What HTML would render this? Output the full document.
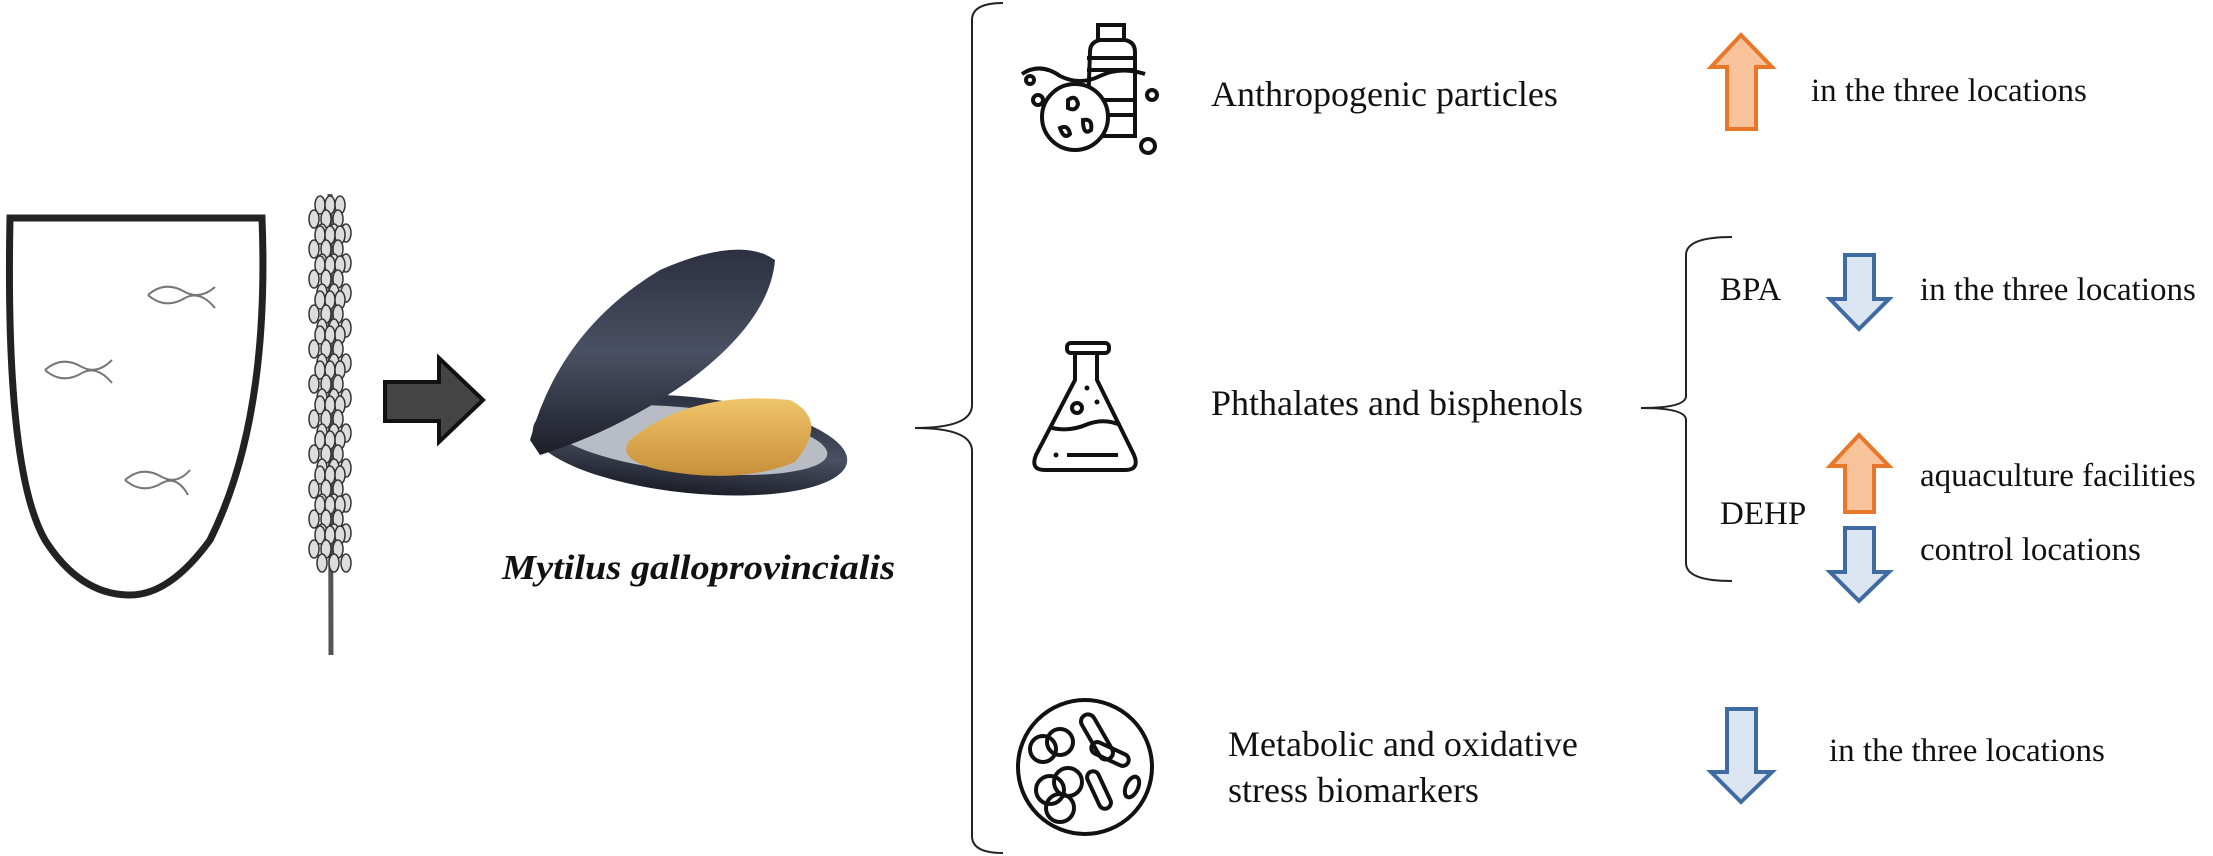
<!DOCTYPE html>
<html><head><meta charset="utf-8"><style>
html,body{margin:0;padding:0;background:#fff;}
svg{display:block;}
text{font-family:"Liberation Serif",serif;fill:#111;}
</style></head><body>
<svg width="2213" height="856" viewBox="0 0 2213 856" xmlns="http://www.w3.org/2000/svg">
<defs>
<linearGradient id="shell" x1="0" y1="0" x2="0" y2="1"><stop offset="0" stop-color="#2c3040"/><stop offset="0.5" stop-color="#4a5063"/><stop offset="1" stop-color="#1c1f28"/></linearGradient>
<linearGradient id="meat" x1="0" y1="0" x2="0" y2="1"><stop offset="0" stop-color="#f0c56a"/><stop offset="1" stop-color="#c88f3a"/></linearGradient>
<g id="cl">
<ellipse cx="320" cy="0" rx="5" ry="9"/><ellipse cx="330" cy="0" rx="5" ry="9"/><ellipse cx="340" cy="0" rx="5" ry="9"/>
<ellipse cx="314" cy="14" rx="5" ry="9"/><ellipse cx="326" cy="14" rx="5" ry="9"/><ellipse cx="338" cy="14" rx="5" ry="9"/>
<ellipse cx="322" cy="28" rx="5" ry="9"/><ellipse cx="334" cy="28" rx="5" ry="9"/><ellipse cx="346" cy="28" rx="5" ry="9"/>
</g>
</defs>
<!-- basket -->
<path d="M10 218 L262 218 Q270 420 210 540 Q170 595 130 595 Q80 595 45 540 Q5 470 10 218 Z" fill="#fff" stroke="#222" stroke-width="7"/>
<g fill="none" stroke="#777" stroke-width="2">
<path d="M148 295 Q165 280 185 292 Q200 300 215 287 M148 295 Q165 310 185 298 Q200 290 215 308"/>
<path d="M45 370 Q62 355 82 367 Q97 375 112 360 M45 370 Q62 385 82 373 Q97 365 112 383"/>
<path d="M125 480 Q142 465 162 477 Q177 485 190 470 M125 480 Q142 495 162 483 Q177 475 188 495"/>
</g>
<!-- rope -->
<line x1="330" y1="194" x2="331" y2="655" stroke="#555" stroke-width="5"/>
<g fill="#ddd" stroke="#333" stroke-width="1.5">
<use href="#cl" y="205"/><use href="#cl" y="235"/><use href="#cl" y="265"/><use href="#cl" y="300"/>
<use href="#cl" y="335"/><use href="#cl" y="370"/><use href="#cl" y="405"/><use href="#cl" y="440"/>
<use href="#cl" y="475"/><use href="#cl" y="505"/><use href="#cl" y="535"/>
</g>
<!-- arrow -->
<path d="M385 382 L439 382 L439 358 L483 400 L439 442 L439 421 L385 421 Z" fill="#444" stroke="#111" stroke-width="4"/>
<!-- mussel -->
<ellipse cx="690" cy="445" rx="158" ry="48" fill="url(#shell)" transform="rotate(6 690 445)"/>
<ellipse cx="690" cy="440" rx="138" ry="32" fill="#b8bcc4" transform="rotate(6 690 440)"/>
<path d="M630 440 Q690 390 790 400 Q830 420 795 462 Q740 485 660 470 Q615 460 630 440 Z" fill="url(#meat)"/>
<path d="M530 440 Q560 330 660 270 Q740 235 775 260 Q770 320 690 380 Q620 430 540 455 Z" fill="url(#shell)"/>
<!-- caption -->
<text x="502" y="579" font-size="35" font-weight="bold" font-style="italic" textLength="393" lengthAdjust="spacingAndGlyphs">Mytilus galloprovincialis</text>
<!-- big brace -->
<path d="M1003 3 Q972 3 972 20 L972 405 Q972 428 915 428 Q972 428 972 451 L972 836 Q972 853 1003 853" fill="none" stroke="#222" stroke-width="2"/>
<!-- icon 1 -->
<g fill="none" stroke="#111" stroke-width="4">
<path d="M1090 52 Q1090 42 1100 40 L1125 40 Q1135 42 1135 52 L1135 136 L1087 136 Z"/>
<rect x="1098" y="25" width="26" height="15"/>
<line x1="1087" y1="58" x2="1135" y2="58"/><line x1="1087" y1="70" x2="1135" y2="70"/>
<line x1="1087" y1="100" x2="1135" y2="100"/><line x1="1087" y1="115" x2="1135" y2="115"/>
<path d="M1022 74 Q1040 62 1060 76 Q1080 86 1100 76 Q1120 66 1145 74"/>
<circle cx="1075" cy="117" r="33" fill="#fff"/>
<circle cx="1030" cy="80" r="4"/><circle cx="1038" cy="100" r="5"/><circle cx="1152" cy="95" r="5"/><circle cx="1148" cy="146" r="7"/>
<path d="M1068 100 q8 -6 10 4 q-2 8 -10 4 z"/><path d="M1060 128 q8 -4 10 6 q-6 6 -10 -6 z"/><path d="M1083 120 q10 -2 8 10 q-8 6 -8 -10 z"/>
</g>
<!-- flask -->
<g fill="none" stroke="#111" stroke-width="4">
<path d="M1075 352 L1075 380 L1036 455 Q1030 470 1045 470 L1125 470 Q1140 470 1134 455 L1097 380 L1097 352"/>
<rect x="1067" y="343" width="42" height="10" rx="4"/>
<path d="M1052 428 Q1070 432 1088 424 Q1105 418 1120 425"/>
<circle cx="1077" cy="408" r="5"/><line x1="1067" y1="455" x2="1118" y2="455"/>
</g>
<circle cx="1056" cy="455" r="2.5" fill="#111"/><circle cx="1087" cy="388" r="2.5" fill="#111"/><circle cx="1097" cy="402" r="2.5" fill="#111"/>
<!-- petri -->
<g fill="none" stroke="#111" stroke-width="4">
<circle cx="1085" cy="767" r="67"/>
<circle cx="1043" cy="749" r="13"/><circle cx="1060" cy="742" r="13"/>
<rect x="1090" y="712" width="14" height="50" rx="7" transform="rotate(-30 1097 737)"/>
<rect x="1090" y="748" width="40" height="12" rx="6" transform="rotate(25 1110 754)"/>
<circle cx="1050" cy="790" r="14"/><circle cx="1068" cy="782" r="14"/><circle cx="1060" cy="808" r="14"/>
<rect x="1093" y="770" width="12" height="40" rx="6" transform="rotate(-25 1099 790)"/>
<ellipse cx="1132" cy="787" rx="6" ry="11" transform="rotate(25 1132 787)"/>
</g>
<!-- texts -->
<text x="1211" y="106" font-size="36">Anthropogenic particles</text>
<text x="1211" y="415" font-size="36">Phthalates and bisphenols</text>
<text x="1228" y="756" font-size="36">Metabolic and oxidative</text>
<text x="1228" y="802" font-size="36">stress biomarkers</text>
<text x="1811" y="101" font-size="33">in the three locations</text>
<text x="1720" y="300" font-size="33">BPA</text>
<text x="1920" y="300" font-size="33">in the three locations</text>
<text x="1920" y="486" font-size="33">aquaculture facilities</text>
<text x="1720" y="524" font-size="33">DEHP</text>
<text x="1920" y="560" font-size="33">control locations</text>
<text x="1829" y="761" font-size="33">in the three locations</text>
<!-- inner brace -->
<path d="M1732 237 Q1686 237 1686 255 L1686 396 Q1686 408 1641 408 Q1686 408 1686 420 L1686 563 Q1686 581 1732 581" fill="none" stroke="#222" stroke-width="2"/>
<!-- arrows -->
<g stroke-width="4" stroke-linejoin="miter">
<path d="M1741 35 L1772 67 L1756 67 L1756 129 L1727 129 L1727 67 L1711 67 Z" fill="#f8c29b" stroke="#e8772a"/>
<path d="M1859 435 L1889 466 L1874 466 L1874 512 L1845 512 L1845 466 L1830 466 Z" fill="#f8c29b" stroke="#e8772a"/>
<path d="M1845 255 L1874 255 L1874 299 L1889 299 L1859 329 L1830 299 L1845 299 Z" fill="#dce6f2" stroke="#3f6ba3"/>
<path d="M1845 528 L1874 528 L1874 572 L1889 572 L1859 601 L1830 572 L1845 572 Z" fill="#dce6f2" stroke="#3f6ba3"/>
<path d="M1727 709 L1756 709 L1756 772 L1772 772 L1741 802 L1711 772 L1727 772 Z" fill="#dce6f2" stroke="#3f6ba3"/>
</g>
</svg>
</body></html>
